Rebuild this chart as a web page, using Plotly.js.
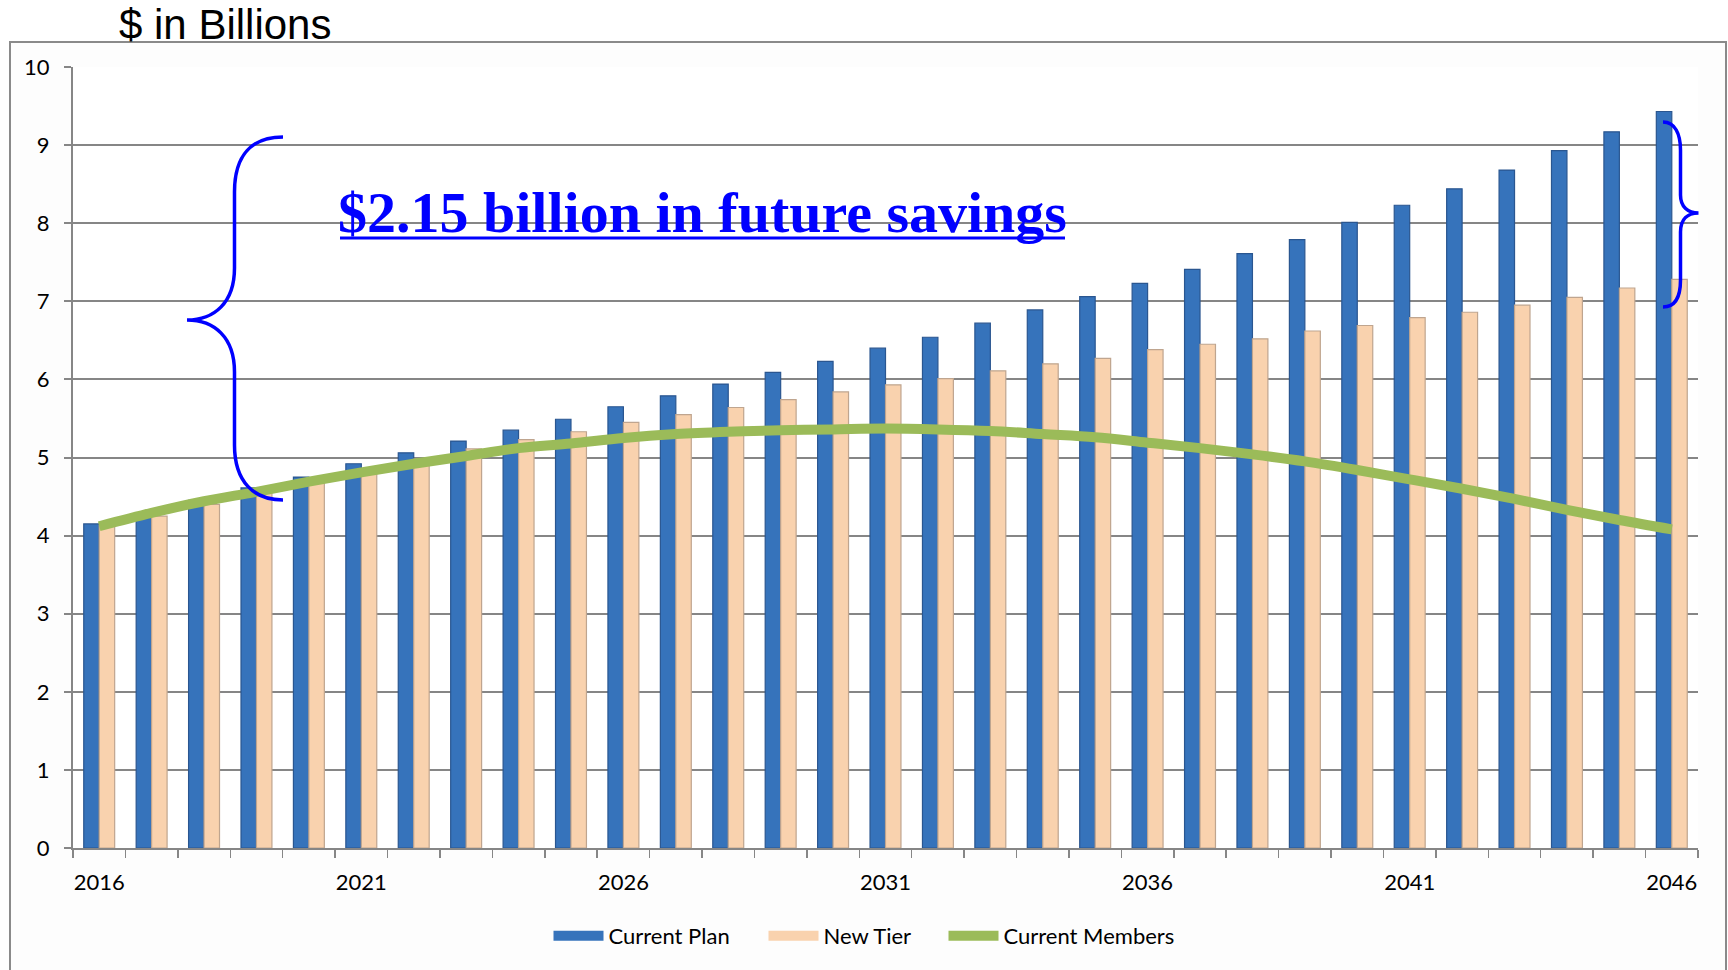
<!DOCTYPE html>
<html>
<head>
<meta charset="utf-8">
<script src="https://cdn.plot.ly/plotly-3.0.1.min.js"></script>
<style>
  html, body { margin: 0; padding: 0; background: #ffffff; overflow: hidden; }
  #frame { position: absolute; left: 9px; top: 41px; width: 1714px; height: 1000px;
           border: 2px solid #8a8a8a; background: #fdfdfd; z-index: 0; }
  #chart { position: absolute; left: 0; top: 0; width: 1728px; height: 970px; z-index: 1; }
</style>
</head>
<body>
<div id="frame"></div>
<div id="chart"></div>
<script>
// ---- data ----
const years = [2016, 2017, 2018, 2019, 2020, 2021, 2022, 2023, 2024, 2025,
               2026, 2027, 2028, 2029, 2030, 2031, 2032, 2033, 2034, 2035,
               2036, 2037, 2038, 2039, 2040, 2041, 2042, 2043, 2044, 2045, 2046];
const currentPlan = [4.15, 4.29, 4.45, 4.61, 4.75, 4.92, 5.06, 5.21, 5.35, 5.49,
                     5.65, 5.79, 5.94, 6.09, 6.23, 6.40, 6.54, 6.72, 6.89, 7.06,
                     7.23, 7.41, 7.61, 7.79, 8.01, 8.23, 8.44, 8.68, 8.93, 9.17, 9.43];
const newTier = [4.13, 4.25, 4.40, 4.56, 4.70, 4.85, 4.98, 5.11, 5.23, 5.33,
                 5.45, 5.55, 5.64, 5.74, 5.84, 5.93, 6.01, 6.11, 6.20, 6.27,
                 6.38, 6.45, 6.52, 6.62, 6.69, 6.79, 6.86, 6.95, 7.05, 7.17, 7.28];
const currentMembers = [4.12, 4.29, 4.44, 4.56, 4.69, 4.81, 4.92, 5.02, 5.12, 5.18,
                        5.25, 5.30, 5.33, 5.35, 5.36, 5.37, 5.36, 5.34, 5.30, 5.26,
                        5.19, 5.12, 5.04, 4.95, 4.84, 4.72, 4.60, 4.47, 4.33, 4.20, 4.08];
const seriesNames = ['Current Plan', 'New Tier', 'Current Members'];
const yTitle = '$ in Billions';
const calloutText = '$2.15 billion in future savings';

// ---- styling / layout ----
const W = 1728, H = 970;
const PL = 73, PR = 1698, PT = 67, PB = 848;
const px = x => (x - PL) / (PR - PL);
const py = y => (PB - y) / (PB - PT);
function pathFromPx(cmds) {
  return cmds.map(c => c[0] + ' ' + c.slice(1).map((v, i) => (i % 2 === 0 ? px(v) : py(v)).toFixed(5)).join(',')).join(' ');
}

const blue = '#3673bb', blueLine = '#2a5690';
const peach = '#f9d2ae', peachLine = '#bfa58f';
const green = '#9bbb59';
const gridGray = '#868686';
const calloutBlue = '#0000ff';

const traces = [
  { type: 'bar', x: years, y: currentPlan, name: seriesNames[0], legendgroup: 'cp', showlegend: false,
    marker: { color: blue, line: { color: blueLine, width: 1.2 } } },
  { type: 'bar', x: years, y: newTier, name: seriesNames[1], legendgroup: 'nt', showlegend: false,
    marker: { color: peach, line: { color: peachLine, width: 1.2 } } },
  // legend swatches for the bar series
  { type: 'scatter', mode: 'lines', x: [null], y: [null], name: seriesNames[0], legendgroup: 'cp',
    legend: 'legend', line: { color: blue, width: 16 } },
  { type: 'scatter', mode: 'lines', x: [null], y: [null], name: seriesNames[1], legendgroup: 'nt',
    legend: 'legend2', line: { color: peach, width: 16 } },
  { type: 'scatter', mode: 'lines', x: years, y: currentMembers, name: seriesNames[2],
    legend: 'legend3', line: { color: green, width: 10, shape: 'spline', smoothing: 1 } }
];

const leftBrace = pathFromPx([
  ['M', 283, 137],
  ['C', 252, 137, 234.5, 155, 234.5, 192],
  ['L', 234.5, 268],
  ['C', 234.5, 303, 214, 320, 187, 320],
  ['C', 214, 320, 234.5, 337, 234.5, 372],
  ['L', 234.5, 445],
  ['C', 234.5, 482, 254, 500, 283, 500]
]);
const rightBrace = pathFromPx([
  ['M', 1663, 122],
  ['C', 1675, 122, 1680.5, 134, 1680.5, 150],
  ['L', 1680.5, 195],
  ['C', 1680.5, 207, 1688, 213, 1698.5, 213],
  ['C', 1688, 213, 1680.5, 219, 1680.5, 232],
  ['L', 1680.5, 280],
  ['C', 1680.5, 297, 1675, 307, 1663, 307]
]);

function legendAt(xPx) {
  return {
    orientation: 'h', x: px(xPx), xanchor: 'left', y: py(936), yanchor: 'middle',
    itemwidth: 50, font: { size: 22, color: '#000000' }, bgcolor: 'rgba(0,0,0,0)'
  };
}

const layout = {
  width: W, height: H,
  margin: { l: PL, r: W - PR, t: PT, b: H - PB, pad: 0 },
  paper_bgcolor: 'rgba(0,0,0,0)',
  plot_bgcolor: '#ffffff',
  font: { family: 'Lato, "Open Sans", sans-serif', size: 22, color: '#000000' },
  title: {
    text: yTitle,
    xref: 'container', yref: 'container',
    x: 119 / W, xanchor: 'left',
    y: 1 - 24 / H, yanchor: 'middle',
    font: { family: '"Liberation Sans", Arial, sans-serif', size: 42, color: '#000000' }
  },
  barmode: 'group',
  bargap: 0.41,
  bargroupgap: 0,
  showlegend: true,
  legend: legendAt(548.5),
  legend2: legendAt(763.5),
  legend3: legendAt(943.5),
  xaxis: {
    type: 'linear', range: [2015.5, 2046.5],
    tickmode: 'linear', tick0: 2016, dtick: 5,
    ticks: '', showgrid: false, zeroline: false,
    showline: true, linecolor: gridGray, linewidth: 2,
    tickfont: { size: 22, color: '#000000' },
    ticklabelstandoff: 14,
    minor: { tick0: 2015.5, dtick: 1, ticks: 'outside', ticklen: 8, tickwidth: 1.5,
             tickcolor: gridGray, showgrid: false }
  },
  yaxis: {
    range: [0, 10], tickmode: 'linear', tick0: 0, dtick: 1,
    ticks: 'outside', ticklen: 7, tickwidth: 2, tickcolor: gridGray,
    showgrid: true, gridcolor: gridGray, gridwidth: 2, zeroline: false,
    showline: true, linecolor: gridGray, linewidth: 2,
    tickfont: { size: 22, color: '#000000' },
    ticklabelstandoff: 10
  },
  shapes: [
    { type: 'path', xref: 'paper', yref: 'paper', path: leftBrace,
      line: { color: calloutBlue, width: 3.5 }, layer: 'above' },
    { type: 'path', xref: 'paper', yref: 'paper', path: rightBrace,
      line: { color: calloutBlue, width: 3.5 }, layer: 'above' },
    // underline of the callout text (continuous, through descenders)
    { type: 'line', xref: 'paper', yref: 'paper', x0: px(340), x1: px(1065), y0: py(238), y1: py(238),
      line: { color: calloutBlue, width: 3 }, layer: 'above' }
  ],
  annotations: [
    { xref: 'paper', yref: 'paper', x: px(702), y: py(212), xanchor: 'center', yanchor: 'middle',
      showarrow: false, text: '<b>' + calloutText + '</b>',
      font: { family: '"Liberation Serif", "Times New Roman", serif', size: 58, color: calloutBlue } }
  ]
};

Plotly.newPlot('chart', traces, layout, { displayModeBar: false, staticPlot: true });
</script>
</body>
</html>
